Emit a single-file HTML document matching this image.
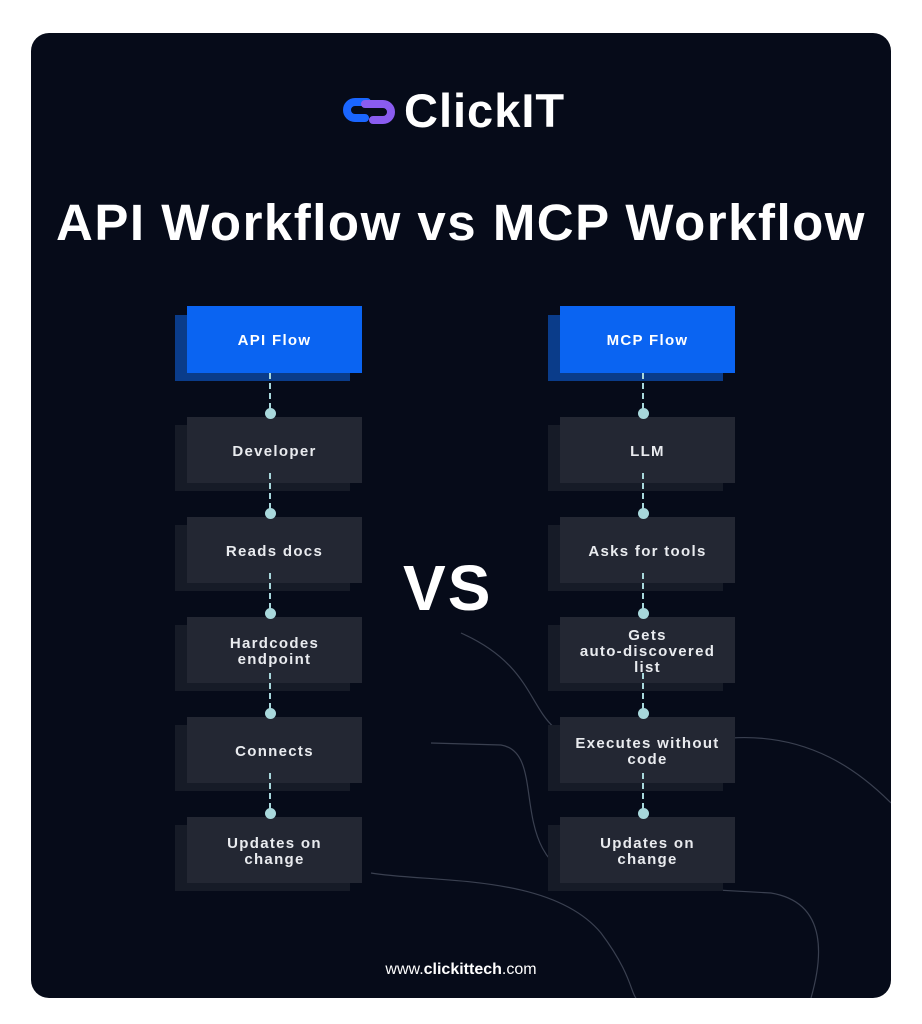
<!DOCTYPE html>
<html><head><meta charset="utf-8"><style>
body{margin:0;width:922px;height:1024px;background:#fff;position:relative;font-family:"Liberation Sans",sans-serif;overflow:hidden}
.card{position:absolute;left:31px;top:33px;width:860px;height:965px;background:#060b19;border-radius:18px;overflow:hidden}
.abs{position:absolute}
.sh{position:absolute;background:#161b27}
.nd{position:absolute;background:#232733;color:#e9ebef;font-weight:bold;font-size:15px;letter-spacing:1.3px;display:flex;align-items:center;justify-content:center;text-align:center;line-height:16px;padding-top:3px;box-sizing:border-box}
.bl{background:#0a64f2;color:#fff}
.bsh{background:#0a3c8a}
.dot{position:absolute;width:11px;height:11px;border-radius:50%;background:#a8d8dc;z-index:2}
.dash{position:absolute;width:2px;border-left:2px dashed #a8d8dc}
</style></head><body>
<div class="card">
<svg class="abs" style="left:0;top:0" width="860" height="965">
<path d="M430 600 C520 640 490 700 560 710 L700 705 C780 700 830 740 860 770" stroke="#3a4050" fill="none" stroke-width="1.2"/>
<path d="M400 710 L470 712 C520 720 470 830 560 850 L740 860 C800 870 790 930 780 965" stroke="#3a4050" fill="none" stroke-width="1.2"/>
<path d="M340 840 C400 850 520 840 570 900 C600 940 600 960 605 965" stroke="#3a4050" fill="none" stroke-width="1.2"/>
</svg>
<svg class="abs" style="left:312px;top:57px" width="60" height="40"><path d="M24 12 H12 a8 8 0 0 0 0 16 H22" stroke="#1a66ff" stroke-width="8" fill="none" stroke-linecap="round"/><path d="M22 20 H40 a8 8 0 0 1 0 16 H30" stroke="#8a5cf0" stroke-width="8" fill="none" stroke-linecap="round" transform="translate(0,-6)"/></svg>
<div class="abs" style="left:373px;top:50px;color:#fff;font-size:47px;font-weight:bold;letter-spacing:1px">ClickIT</div>
<div class="abs" style="left:0;width:860px;top:160px;text-align:center;color:#fff;font-size:51px;font-weight:bold;letter-spacing:1.5px">API Workflow vs MCP Workflow</div>
<div class="abs" style="left:372px;top:518px;color:#fff;font-size:64px;font-weight:bold;letter-spacing:2px">VS</div>
<div class="abs" style="left:0;width:860px;top:928px;text-align:center;color:#fff;font-size:16px">www.<b>clickittech</b>.com</div>
</div>
<div class="sh bsh" style="left:175px;top:315px;width:175px;height:66px"></div>
<div class="nd bl" style="left:187px;top:306px;width:175px;height:67px">API Flow</div>
<div class="sh bsh" style="left:548px;top:315px;width:175px;height:66px"></div>
<div class="nd bl" style="left:560px;top:306px;width:175px;height:67px">MCP Flow</div>

<div id="L"></div>
<script>
var L=["Developer","Reads docs","Hardcodes<br>endpoint","Connects","Updates on<br>change"];
var R=["LLM","Asks for tools","Gets<br>auto-discovered<br>list","Executes without<br>code","Updates on<br>change"];
var h="";
function col(arr,x,cx){for(var i=0;i<5;i++){var t=417+i*100;
h+='<div class="dash" style="left:'+(cx-1)+'px;top:'+(t-44)+'px;height:36px"></div>';
h+='<div class="dot" style="left:'+(cx-5)+'px;top:'+(t-9)+'px"></div>';
h+='<div class="sh" style="left:'+(x-12)+'px;top:'+(t+8)+'px;width:175px;height:66px"></div>';
h+='<div class="nd" style="left:'+x+'px;top:'+t+'px;width:175px;height:66px">'+arr[i]+'</div>';}}
col(L,187,270);col(R,560,643);
document.getElementById("L").outerHTML=h;
</script>
</body></html>
